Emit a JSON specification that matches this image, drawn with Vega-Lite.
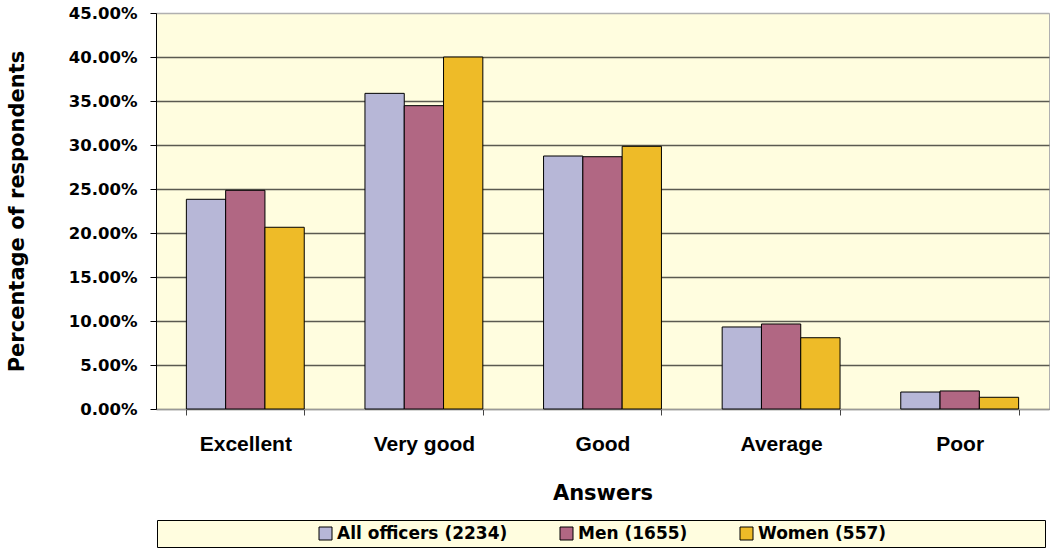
{
  "$schema": "https://vega.github.io/schema/vega-lite/v6.json",
  "width": 893,
  "height": 396,
  "autosize": {"type": "none"},
  "padding": {"left": 156, "top": 13, "right": 1, "bottom": 141},
  "background": "white",
  "config": {
    "view": {"fill": "#FFFDDF", "stroke": "#b0b0b0"},
    "font": "Liberation Sans"
  },
  "data": {
    "values": [
      {"answer": "Excellent", "group": "All officers (2234)", "value": 0.2383},
      {"answer": "Excellent", "group": "Men (1655)", "value": 0.2485},
      {"answer": "Excellent", "group": "Women (557)", "value": 0.2065},
      {"answer": "Very good", "group": "All officers (2234)", "value": 0.3587},
      {"answer": "Very good", "group": "Men (1655)", "value": 0.3447},
      {"answer": "Very good", "group": "Women (557)", "value": 0.4},
      {"answer": "Good", "group": "All officers (2234)", "value": 0.2875},
      {"answer": "Good", "group": "Men (1655)", "value": 0.2867},
      {"answer": "Good", "group": "Women (557)", "value": 0.2985},
      {"answer": "Average", "group": "All officers (2234)", "value": 0.0932},
      {"answer": "Average", "group": "Men (1655)", "value": 0.0966},
      {"answer": "Average", "group": "Women (557)", "value": 0.081},
      {"answer": "Poor", "group": "All officers (2234)", "value": 0.0193},
      {"answer": "Poor", "group": "Men (1655)", "value": 0.0205},
      {"answer": "Poor", "group": "Women (557)", "value": 0.0133}
    ]
  },
  "mark": {"type": "bar", "stroke": "#000000", "strokeWidth": 1},
  "encoding": {
    "x": {
      "field": "answer",
      "type": "nominal",
      "sort": ["Excellent", "Very good", "Good", "Average", "Poor"],
      "scale": {"paddingInner": 0.34, "paddingOuter": 0.17},
      "axis": {
        "title": "Answers",
        "labelAngle": 0,
        "tickBand": "extent",
        "grid": false,
        "domainColor": "#999999",
        "tickColor": "#444444",
        "tickSize": 6,
        "labelFont": "Liberation Sans",
        "labelFontWeight": "bold",
        "labelFontSize": 21,
        "labelColor": "#000000",
        "labelPadding": 18,
        "titleFont": "DejaVu Sans",
        "titleFontWeight": "bold",
        "titleFontSize": 21,
        "titleColor": "#000000",
        "titlePadding": 28
      }
    },
    "xOffset": {
      "field": "group",
      "sort": ["All officers (2234)", "Men (1655)", "Women (557)"],
      "scale": {"paddingInner": 0, "paddingOuter": 0}
    },
    "y": {
      "field": "value",
      "type": "quantitative",
      "scale": {"domain": [0, 0.45], "nice": false},
      "axis": {
        "title": "Percentage of respondents",
        "format": ".2%",
        "values": [0, 0.05, 0.1, 0.15, 0.2, 0.25, 0.3, 0.35, 0.4, 0.45],
        "domainColor": "#000000",
        "domainWidth": 1,
        "tickColor": "#000000",
        "tickSize": 6,
        "gridColor": {"condition": {"test": "datum.value >= 0.449", "value": "#b0b0b0"}, "value": "#5a5a50"},
        "gridWidth": 1.3,
        "labelFont": "DejaVu Sans",
        "labelFontWeight": "bold",
        "labelFontSize": 16.5,
        "labelColor": "#000000",
        "labelPadding": 13,
        "titleFont": "DejaVu Sans",
        "titleFontWeight": "bold",
        "titleFontSize": 21,
        "titleColor": "#000000",
        "titlePadding": 41
      }
    },
    "color": {
      "field": "group",
      "type": "nominal",
      "sort": ["All officers (2234)", "Men (1655)", "Women (557)"],
      "scale": {
        "domain": ["All officers (2234)", "Men (1655)", "Women (557)"],
        "range": ["#B7B7D7", "#B16783", "#EEBB28"]
      },
      "legend": {
        "orient": "none",
        "legendX": 1,
        "legendY": 507,
        "direction": "horizontal",
        "title": "\u200b\u00a0\u00a0\u00a0\u00a0\u00a0\u00a0\u00a0\u00a0\u00a0\u00a0\u00a0\u00a0\u00a0\u00a0\u00a0\u00a0\u00a0\u00a0\u00a0\u00a0\u00a0\u00a0\u00a0\u00a0\u00a0\u00a0\u200b",
        "titleOrient": "left",
        "titleFont": "DejaVu Sans",
        "titleFontWeight": "bold",
        "titleFontSize": 17,
        "titlePadding": 1,
        "titleLimit": 400,
        "labelFont": "DejaVu Sans",
        "labelFontWeight": "bold",
        "labelFontSize": 17,
        "labelColor": "#000000",
        "labelLimit": 500,
        "labelOffset": 3,
        "labelExpr": "datum.label == 'Women (557)' ? datum.label + '\u00a0\u00a0\u00a0\u00a0\u00a0\u00a0\u00a0\u00a0\u00a0\u00a0\u00a0\u00a0\u00a0\u00a0\u00a0\u00a0\u00a0\u00a0\u00a0\u00a0\u00a0\u00a0\u00a0\u00a0\u00a0\u00a0\u200b' : datum.label",
        "symbolType": "square",
        "symbolSize": 169,
        "symbolStrokeColor": "#000000",
        "symbolStrokeWidth": 1,
        "symbolOpacity": 1,
        "columnPadding": 50,
        "padding": 5,
        "fillColor": "#FFFDDF",
        "strokeColor": "#000000"
      }
    }
  }
}
